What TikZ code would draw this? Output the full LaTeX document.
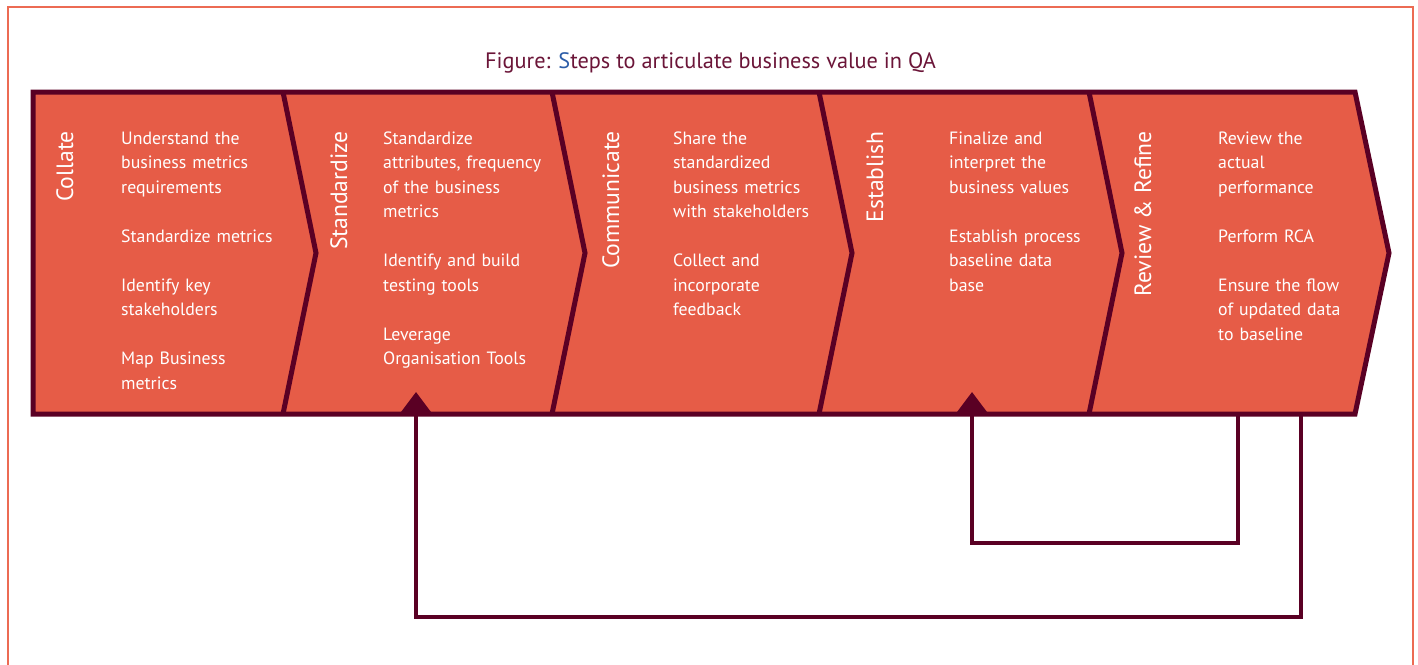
\documentclass[tikz,border=0pt]{standalone}
\usepackage{fontspec}
\setmainfont{PT Sans}
\usetikzlibrary{arrows.meta}
\definecolor{stagefill}{HTML}{E65C47}
\definecolor{stageline}{HTML}{5A0024}
\definecolor{framecol}{HTML}{EC6B53}
\definecolor{titlecol}{HTML}{6B1538}
\definecolor{titleblue}{HTML}{2D5DA8}
\tikzset{
  frameline/.style={draw=framecol, line width=1.6pt},
  band/.style={fill=stagefill, draw=stageline, line width=5pt, line join=miter},
  divider/.style={draw=stageline, line width=5pt, line join=miter},
  feedback/.style={draw=stageline, line width=4pt, line join=miter,
    -{Triangle[width=32pt,length=22pt]}},
  stagename/.style={rotate=90, anchor=base east, inner sep=0pt, text=white,
    font=\fontsize{23.6}{28}\selectfont},
  stagetext/.style={anchor=north west, inner sep=0pt, text=white, align=left,
    text width=230pt, font=\fontsize{17.8}{24.5}\selectfont},
  titletext/.style={anchor=base, inner sep=0pt, text=titlecol,
    font=\fontsize{22.3}{26}\selectfont}
}
\begin{document}
\begin{tikzpicture}[x=1pt,y=-1pt]
\useasboundingbox (0,0) rectangle (1418,664);
% outer frame (open at the bottom)
\draw[frameline] (8,680) -- (8,7) -- (1413,7) -- (1413,680);

% title
\node[titletext] (title) at (710.5,68) {Figure: {\color{titleblue}S}teps to articulate business value in QA};

% the chevron band and its dividers
\path[band] (33,92) -- (1355,92) -- (1389,253) -- (1355,414) -- (33,414) -- cycle;
\foreach \x in {283,552,819,1089}
  \draw[divider] (\x,92) -- (\x+33,253) -- (\x,414);

% stage names
\node[stagename] (collate) at (73,131) {Collate};
\node[stagename] (standardize) at (347,131) {Standardize};
\node[stagename] (communicate) at (619,131) {Communicate};
\node[stagename] (establish) at (883,131) {Establish};
\node[stagename] (review) at (1151,131) {Review \& Refine};

% stage activities
\node[stagetext] (collateTxt) at (121,126.85) {\strut Understand the\\business metrics\\requirements\\[24.5pt]Standardize metrics\\[24.5pt]Identify key\\stakeholders\\[24.5pt]Map Business\\metrics};
\node[stagetext] (standardizeTxt) at (383,126.85) {\strut Standardize\\attributes, frequency\\of the business\\metrics\\[24.5pt]Identify and build\\testing tools\\[24.5pt]Leverage\\Organisation Tools};
\node[stagetext] (communicateTxt) at (673,126.85) {\strut Share the\\standardized\\business metrics\\with stakeholders\\[24.5pt]Collect and\\incorporate\\feedback};
\node[stagetext] (establishTxt) at (949,126.85) {\strut Finalize and\\interpret the\\business values\\[24.5pt]Establish process\\baseline data\\base};
\node[stagetext] (reviewTxt) at (1218,126.85) {\strut Review the\\actual\\performance\\[24.5pt]Perform RCA\\[24.5pt]Ensure the flow\\of updated data\\to baseline};

% feedback loops
\coordinate (reviewOuter) at (1301,414);
\coordinate (reviewInner) at (1238,414);
\coordinate (standardizeIn) at (416,392);
\coordinate (establishIn) at (972,392);
\draw[feedback] (reviewOuter) -- ++(0,203) -| (standardizeIn);
\draw[feedback] (reviewInner) -- ++(0,129) -| (establishIn);
\end{tikzpicture}
\end{document}
